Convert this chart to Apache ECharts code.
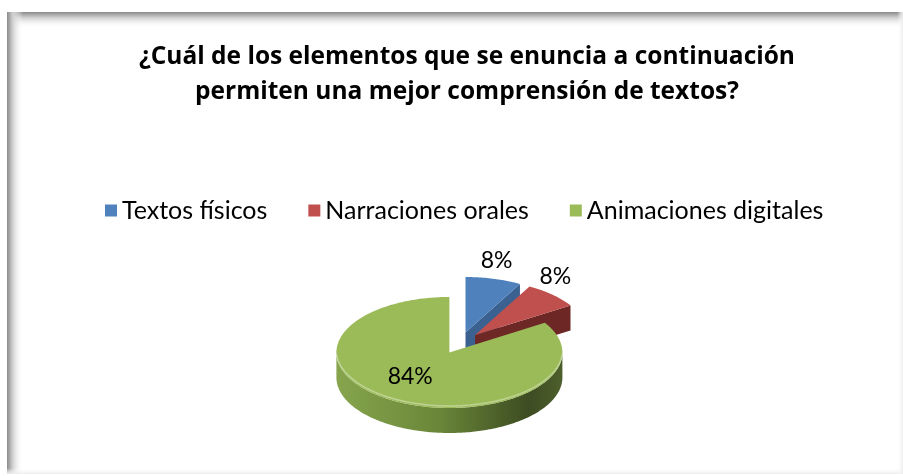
<!DOCTYPE html>
<html>
<head>
<meta charset="utf-8">
<script src="https://cdn.jsdelivr.net/npm/echarts@6/dist/echarts.min.js"></script>
<style>
  html, body { margin: 0; padding: 0; background: #fff; }
  #chart { width: 903px; height: 476px; }
</style>
</head>
<body>
<div id="chart"></div>
<script>
// Survey answers
const titleText = '¿Cuál de los elementos que se enuncia a continuación\npermiten una mejor comprensión de textos?';
const categories = ['Textos físicos', 'Narraciones orales', 'Animaciones digitales'];
const values = [8, 8, 84];

// Slice palette: top face / side wall
const topColors = ['#4f81bd', '#c0504d', '#9bbb59'];
const sideColors = ['#3a6190', '#6d2826', '#5f7a34'];

const FONT = 'Lato, "Liberation Sans", sans-serif';
const TITLE_FONT = '"Open Sans", Lato, sans-serif';

// 3D pie geometry (screen pixels)
const PIE = { cx: 460, cy: 343, rx: 113, ry: 55.5, depth: 25, explode: 22 };

const total = values.reduce((a, b) => a + b, 0);
const starts = [];
let acc = 0;
values.forEach(v => { starts.push(acc / total * 360); acc += v; });

const rad = d => d * Math.PI / 180;

function sliceGeom(i) {
  const a0 = starts[i];
  const a1 = a0 + values[i] / total * 360;
  const mid = rad((a0 + a1) / 2);
  const ox = PIE.cx + PIE.explode * Math.sin(mid);
  const oy = PIE.cy - PIE.explode * Math.cos(mid) * (PIE.ry / PIE.rx);
  const pt = (deg, dy) => [ox + PIE.rx * Math.sin(rad(deg)), oy - PIE.ry * Math.cos(rad(deg)) + (dy || 0)];
  return { a0, a1, mid, ox, oy, pt };
}

function arcPoints(g, from, to, dy) {
  const pts = [];
  const n = Math.max(2, Math.ceil(Math.abs(to - from)));
  for (let k = 0; k <= n; k++) pts.push(g.pt(from + (to - from) * k / n, dy));
  return pts;
}

function makeRender(i) {
  return function () {
    const g = sliceGeom(i);
    const d = PIE.depth;
    const children = [];

    // radial cut faces that turn toward the viewer
    [[g.a0, -1], [g.a1, 1]].forEach(([ang, sgn]) => {
      const facing = sgn * Math.sin(rad(ang));
      if (facing > 0.01) {
        const p = g.pt(ang);
        children.push({
          type: 'polygon',
          shape: { points: [[g.ox, g.oy], p, [p[0], p[1] + d], [g.ox, g.oy + d]] },
          style: { fill: sideColors[i] }
        });
      }
    });

    // outer curved wall (front half only)
    const w0 = Math.max(g.a0, 90), w1 = Math.min(g.a1, 270);
    if (w1 > w0) {
      const top = arcPoints(g, w0, w1, 0);
      const bottom = arcPoints(g, w1, w0, d);
      children.push({
        type: 'polygon',
        shape: { points: top.concat(bottom) },
        style: {
          fill: new echarts.graphic.LinearGradient(0, 0, 1, 0, [
            { offset: 0, color: i === 2 ? '#86a54d' : sideColors[i] },
            { offset: 0.45, color: i === 2 ? '#6a8739' : sideColors[i] },
            { offset: 0.85, color: i === 2 ? '#3d4c22' : sideColors[i] },
            { offset: 1, color: i === 2 ? '#4d5f2c' : sideColors[i] }
          ])
        }
      });
    }

    // top face
    children.push({
      type: 'polygon',
      shape: { points: [[g.ox, g.oy]].concat(arcPoints(g, g.a0, g.a1, 0)) },
      style: { fill: topColors[i] }
    });

    // soft bevel highlight along the front rim
    if (w1 > w0) {
      children.push({
        type: 'polyline',
        shape: { points: arcPoints(g, w0 + 4, w1 - 4, -2) },
        style: { stroke: 'rgba(255,255,255,0.35)', lineWidth: 1.5, fill: null }
      });
    }

    // percentage label
    const share = values[i] / total;
    const txt = Math.round(share * 100) + '%';
    let lx, ly;
    if (share < 0.2) {
      const r = g.pt((g.a0 + g.a1) / 2);
      lx = r[0] + 3;
      ly = r[1] - 18;
    } else {
      lx = g.ox + 0.72 * PIE.rx * Math.sin(g.mid);
      ly = g.oy - 0.5 * PIE.ry * Math.cos(g.mid);
    }
    children.push({
      type: 'text',
      z2: 10,
      style: {
        text: txt, x: lx, y: ly, align: 'center', verticalAlign: 'middle',
        font: '23px ' + FONT, fill: '#000'
      }
    });

    return { type: 'group', children };
  };
}

const chart = echarts.init(document.getElementById('chart'), null, { renderer: 'canvas' });

const frame = [
  { type: 'rect', shape: { x: 7, y: 12, width: 896, height: 462 }, style: { fill: '#fff' }, z: -10 },
  { type: 'rect', shape: { x: 7, y: 12, width: 896, height: 16 },
    style: { fill: new echarts.graphic.LinearGradient(0, 0, 0, 1, [
      { offset: 0, color: '#8a8a8a' }, { offset: 0.35, color: '#cfcfcf' }, { offset: 1, color: 'rgba(255,255,255,0)' }]) }, z: -9 },
  { type: 'rect', shape: { x: 7, y: 12, width: 16, height: 462 },
    style: { fill: new echarts.graphic.LinearGradient(0, 0, 1, 0, [
      { offset: 0, color: '#8a8a8a' }, { offset: 0.35, color: '#cfcfcf' }, { offset: 1, color: 'rgba(255,255,255,0)' }]) }, z: -9 },
  { type: 'rect', shape: { x: 7, y: 468, width: 896, height: 6 },
    style: { fill: new echarts.graphic.LinearGradient(0, 0, 0, 1, [
      { offset: 0, color: 'rgba(255,255,255,0)' }, { offset: 1, color: '#ececec' }]) }, z: -9 },
  { type: 'rect', shape: { x: 897, y: 12, width: 6, height: 462 },
    style: { fill: new echarts.graphic.LinearGradient(0, 0, 1, 0, [
      { offset: 0, color: 'rgba(255,255,255,0)' }, { offset: 1, color: '#ececec' }]) }, z: -9 }
];

chart.setOption({
  backgroundColor: '#fff',
  animation: false,
  graphic: frame,
  title: {
    text: titleText,
    left: 462,
    top: 35,
    textAlign: 'center',
    textStyle: { fontFamily: TITLE_FONT, fontWeight: 'bold', fontSize: 24.5, lineHeight: 35, color: '#000' }
  },
  legend: {
    data: categories,
    top: 193,
    left: 100,
    icon: 'rect',
    itemWidth: 12,
    itemHeight: 12,
    itemGap: 41,
    textStyle: { fontFamily: FONT, fontSize: 25, color: '#000' }
  },
  series: categories.map((name, i) => ({
    type: 'custom',
    name: name,
    coordinateSystem: 'none',
    itemStyle: { color: topColors[i] },
    data: [[values[i]]],
    renderItem: makeRender(i),
    z: 2 + i
  }))
});
</script>
</body>
</html>
